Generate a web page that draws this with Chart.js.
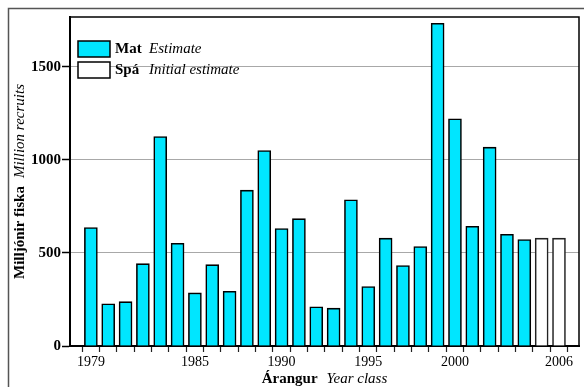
<!DOCTYPE html>
<html>
<head>
<meta charset="utf-8">
<script src="https://cdn.jsdelivr.net/npm/chart.js@4/dist/chart.umd.min.js"></script>
<style>
  html, body { margin: 0; padding: 0; background: #fff; }
  canvas { display: block; }
</style>
</head>
<body>
<canvas id="recruits" width="584" height="387"></canvas>
<script>
// year classes and recruitment (millions)
const years = [1979, 1980, 1981, 1982, 1983, 1984, 1985, 1986, 1987, 1988,
  1989, 1990, 1991, 1992, 1993, 1994, 1995, 1996, 1997, 1998,
  1999, 2000, 2001, 2002, 2003, 2004, 2005, 2006];
const estimate = [636, 227, 238, 442, 1125, 552, 285, 437, 294, 837,
  1050, 631, 684, 211, 203, 785, 319, 579, 432, 534,
  1733, 1220, 643, 1068, 600, 572, null, null];
const initialEstimate = [null, null, null, null, null, null, null, null, null, null,
  null, null, null, null, null, null, null, null, null, null,
  null, null, null, null, null, null, 579, 579];
const yearLabels = [1979, 1985, 1990, 1995, 2000, 2006];
const yTicks = [0, 500, 1000, 1500];

const serif = "'Liberation Serif', 'Times New Roman', serif";
Chart.defaults.font.family = serif;
Chart.defaults.color = '#000';

const toPoints = (values) => years
  .map((yr, i) => ({ x: yr, y: values[i] }))
  .filter(p => p.y !== null);

// legend, axis titles and frame (mixed bold / italic text)
const decorations = {
  id: 'decorations',
  beforeDraw(chart) {
    const ctx = chart.ctx;
    ctx.save();
    ctx.strokeStyle = '#555';
    ctx.lineWidth = 1.5;
    ctx.beginPath();
    ctx.moveTo(8.5, 387);
    ctx.lineTo(8.5, 8.5);
    ctx.lineTo(584, 8.5);
    ctx.stroke();
    ctx.restore();
  },
  afterDraw(chart) {
    const { ctx, chartArea: a } = chart;
    ctx.save();

    // plot frame top and right
    ctx.strokeStyle = '#000';
    ctx.lineWidth = 1.5;
    ctx.beginPath();
    ctx.moveTo(a.left, a.top);
    ctx.lineTo(a.right, a.top);
    ctx.lineTo(a.right, a.bottom);
    ctx.stroke();

    const bold = `bold 15px ${serif}`;
    const italic = `italic 15px ${serif}`;
    const pair = (b, i, gap) => {
      ctx.font = bold;
      const wb = ctx.measureText(b).width;
      ctx.font = italic;
      const wi = ctx.measureText(i).width;
      return { wb, wi, total: wb + gap + wi };
    };

    ctx.fillStyle = '#000';
    ctx.textBaseline = 'middle';
    ctx.textAlign = 'left';

    // x title
    let m = pair('Árangur', 'Year class', 9);
    let x0 = (a.left + a.right) / 2 - m.total / 2;
    ctx.font = bold;
    ctx.fillText('Árangur', x0, 379);
    ctx.font = italic;
    ctx.fillText('Year class', x0 + m.wb + 9, 379);

    // y title
    m = pair('Milljónir fiska', 'Million recruits', 8);
    ctx.save();
    ctx.translate(20, (a.top + a.bottom) / 2);
    ctx.rotate(-Math.PI / 2);
    ctx.font = bold;
    ctx.fillText('Milljónir fiska', -m.total / 2, 0);
    ctx.font = italic;
    ctx.fillText('Million recruits', -m.total / 2 + m.wb + 8, 0);
    ctx.restore();

    // legend
    const rows = [
      { fill: '#00e6ff', b: 'Mat', i: 'Estimate', y: 41 },
      { fill: '#ffffff', b: 'Spá', i: 'Initial estimate', y: 62 }
    ];
    rows.forEach(r => {
      ctx.fillStyle = r.fill;
      ctx.fillRect(78, r.y, 32, 16);
      ctx.strokeStyle = '#000';
      ctx.lineWidth = 1.5;
      ctx.strokeRect(78, r.y, 32, 16);
      ctx.fillStyle = '#000';
      ctx.font = bold;
      ctx.fillText(r.b, 115, r.y + 8.5);
      ctx.font = italic;
      ctx.fillText(r.i, 149, r.y + 8.5);
    });

    ctx.restore();
  }
};

new Chart(document.getElementById('recruits'), {
  type: 'bar',
  data: {
    datasets: [
      {
        label: 'Mat',
        data: toPoints(estimate),
        backgroundColor: '#00e6ff',
        borderColor: '#000',
        borderWidth: 1.6,
        barThickness: 13,
        grouped: false
      },
      {
        label: 'Spá',
        data: toPoints(initialEstimate),
        backgroundColor: '#ffffff',
        borderColor: '#222',
        borderWidth: 1.6,
        barThickness: 13,
        grouped: false
      }
    ]
  },
  options: {
    responsive: false,
    animation: false,
    layout: { padding: { top: 17, right: 5, left: 0, bottom: 0 } },
    plugins: { legend: { display: false }, tooltip: { enabled: false } },
    scales: {
      x: {
        type: 'linear',
        min: 1978.32,
        max: 2006.63,
        afterFit: s => { s.height = 41; },
        afterBuildTicks: s => { s.ticks = years.map(v => ({ value: v })); },
        grid: { drawOnChartArea: false, tickLength: 6, tickColor: '#222', tickWidth: 1.2 },
        border: { color: '#000', width: 2 },
        ticks: {
          autoSkip: false,
          maxRotation: 0,
          padding: 2,
          font: { size: 14 },
          callback: v => yearLabels.includes(v) ? String(v) : ''
        }
      },
      y: {
        min: 0,
        max: 1767,
        afterFit: s => { s.width = 70; },
        afterBuildTicks: s => { s.ticks = yTicks.map(v => ({ value: v })); },
        grid: {
          color: c => c.tick && c.tick.value === 0 ? 'rgba(0,0,0,0)' : '#a8a8a8',
          lineWidth: 1,
          tickLength: 8,
          tickColor: '#000',
          tickWidth: 1.5
        },
        border: { color: '#000', width: 2 },
        ticks: {
          padding: 1,
          font: { size: 15, weight: 'bold' },
          callback: v => String(v)
        }
      }
    }
  },
  plugins: [decorations]
});
</script>
</body>
</html>
